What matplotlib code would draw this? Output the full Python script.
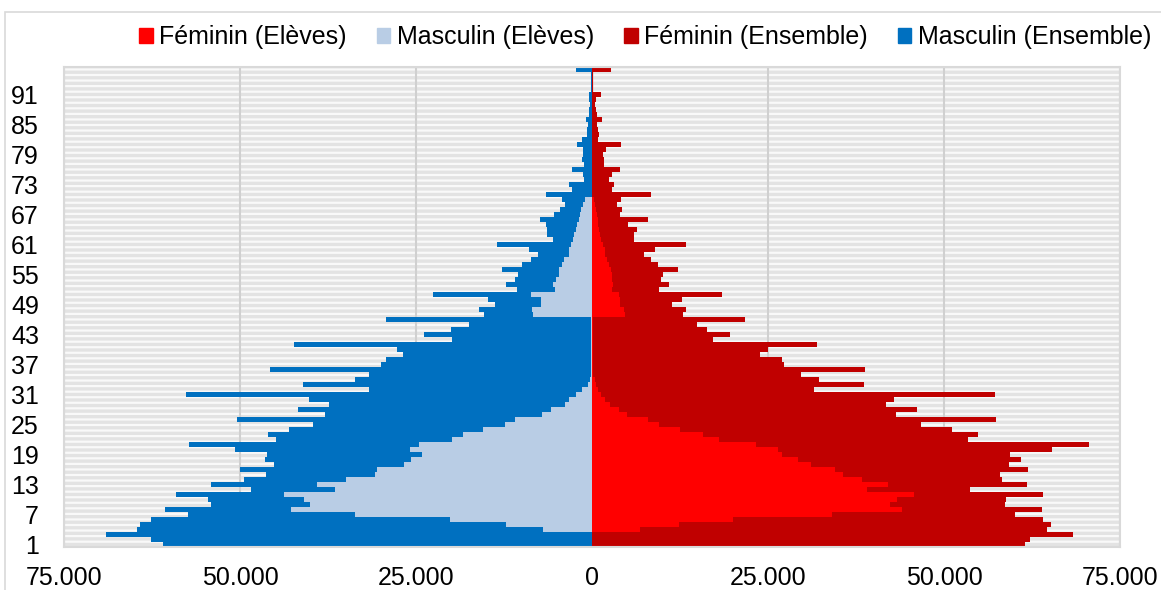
import matplotlib
matplotlib.use('Agg')
import matplotlib.pyplot as plt
from matplotlib.patches import Patch, Rectangle
from matplotlib.ticker import FuncFormatter
import numpy as np

plt.rcParams['font.family'] = ['Liberation Sans', 'DejaVu Sans']
plt.rcParams['hatch.linewidth'] = 1.6

# age categories 1..96 (top one is the last class)
ages = list(range(1, 97))

masc_ensemble = [
    61000, 62700, 69000, 64700, 64200, 62700, 57400, 60700, 54100, 54500,
    59100, 48500, 54100, 49500, 46300, 50000, 45200, 46500, 46200, 50700,
    57200, 44900, 46000, 43100, 39700, 50400, 37900, 41700, 37400, 40200,
    57700, 31700, 41100, 33600, 31700, 45700, 30000, 29300, 26800, 27700,
    42400, 19900, 23800, 20000, 17500, 29300, 15400, 16100, 13800, 14800,
    22600, 10700, 12200, 10900, 10500, 12800, 9900, 8700, 7600, 8950,
    13500, 5500, 6450, 6350, 6600, 7400, 5350, 4550, 3850, 4200,
    6600, 2900, 3200, 1100, 1250, 2900, 1100, 1450, 1250, 1300,
    2100, 1400, 700, 650, 600, 900, 400, 450, 350, 400,
    470, 150, 150, 100, 100, 2270]

fem_ensemble = [
    61500, 62200, 68300, 64700, 65200, 64000, 60100, 63900, 58700, 58800,
    64000, 53700, 61800, 58200, 58000, 62000, 59200, 60900, 59400, 65400,
    70600, 53400, 54800, 51100, 46700, 57400, 43200, 46200, 41700, 42900,
    57200, 31600, 38600, 32300, 29700, 38800, 27300, 27000, 23800, 25000,
    31900, 17200, 19600, 16400, 14900, 21700, 12900, 13300, 11400, 12800,
    18400, 9500, 11000, 9750, 10100, 12200, 9400, 8450, 7450, 9000,
    13400, 6000, 5900, 6350, 5100, 7900, 4000, 4250, 3600, 4100,
    8400, 2800, 3100, 2450, 2900, 4000, 1700, 1700, 1500, 1950,
    4050, 850, 1000, 850, 750, 1350, 750, 500, 400, 550,
    1250, 100, 200, 100, 100, 2650]

fem_eleves = [
    0, 0, 0, 6800, 12300, 20000, 34100, 44000, 42400, 43300,
    45700, 39000, 42100, 38300, 35700, 34500, 31100, 29200, 27000, 26400,
    23300, 18100, 15700, 12500, 9500, 7900, 5000, 3800, 2550, 1900,
    1300, 800, 600, 450, 150, 150, 150, 150, 150, 150,
    150, 150, 150, 150, 150, 150, 4750, 4600, 4000, 4000,
    3900, 2850, 3050, 2900, 2800, 2750, 2400, 2150, 1900, 1900,
    1500, 1300, 1100, 1000, 900, 800, 700, 600, 450, 300,
    0, 0, 0, 0, 0, 0, 0, 0, 0, 0,
    0, 0, 0, 0, 0, 0, 0, 0, 0, 0,
    0, 0, 0, 0, 0, 0]

masc_eleves = [
    0, 0, 0, 7000, 12200, 20200, 33600, 42800, 40000, 40900,
    43700, 36500, 39000, 34900, 30800, 30600, 26700, 25700, 24100, 25900,
    24600, 19900, 18300, 15500, 12400, 11000, 7100, 5800, 3900, 3200,
    2300, 1400, 600, 300, 150, 150, 150, 150, 150, 150,
    150, 150, 150, 150, 150, 150, 8400, 8550, 7200, 7300,
    8700, 5200, 5500, 5100, 4750, 4650, 4300, 4000, 3200, 3300,
    3000, 2700, 2500, 2300, 2100, 1900, 1700, 1500, 1300, 1000,
    0, 0, 0, 0, 0, 0, 0, 0, 0, 0,
    0, 0, 0, 0, 0, 0, 0, 0, 0, 0,
    0, 0, 0, 0, 0, 0]

series_names = ['Féminin (Elèves)', 'Masculin (Elèves)',
                'Féminin (Ensemble)', 'Masculin (Ensemble)']
series_colors = ['#ff0000', '#b9cde5', '#c00000', '#0070c0']

age_ticks = ages[::6]
x_ticks = [-75000, -50000, -25000, 0, 25000, 50000, 75000]

fig = plt.figure(figsize=(11.61, 5.90), dpi=100)
ax = fig.add_axes([64 / 1161, 1 - 547 / 590, (1120 - 64) / 1161, 480 / 590])

# hatched plot area background
ax.add_patch(Rectangle((0, 0), 1, 1, transform=ax.transAxes, facecolor='#e3e3e3',
                       edgecolor='#f9f9f9', hatch='---', linewidth=0, zorder=0))

y = np.array(ages)
ax.barh(y, -np.array(masc_ensemble), height=1.0, color=series_colors[3], zorder=2)
ax.barh(y, fem_ensemble, height=1.0, color=series_colors[2], zorder=2)
ax.barh(y, -np.array(masc_eleves), height=1.0, color=series_colors[1], zorder=3)
ax.barh(y, fem_eleves, height=1.0, color=series_colors[0], zorder=3)

ax.set_xlim(-75000, 75000)
ax.set_ylim(0.5, 96.5)
ax.set_xticks(x_ticks)
ax.xaxis.set_major_formatter(FuncFormatter(lambda v, p: f'{abs(int(v)):,}'.replace(',', '.')))
ax.set_yticks(age_ticks)
ax.tick_params(axis='x', length=0, pad=14, labelsize=18)
ax.tick_params(axis='y', length=0, pad=18, labelsize=18)
ax.set_axisbelow(True)
ax.grid(axis='x', color='#d0d0d0', linewidth=1.5)
for s in ax.spines.values():
    s.set_color('#d9d9d9')
    s.set_linewidth(1.5)
ax.axvline(0, color='#f08080', linewidth=1, zorder=1.5)

handles = [Patch(color=c) for c in series_colors]
fig.legend(handles, series_names, loc='center', bbox_to_anchor=(645 / 1161, 1 - 37 / 590),
           ncol=4, frameon=False, fontsize=18, handlelength=0.55, handleheight=0.55,
           handletextpad=0.25, columnspacing=1.2)

# light frame around the chart
fig.add_artist(Rectangle((5 / 1161, -0.1), 1.2, 1.1 - 12 / 590, transform=fig.transFigure,
                         fill=False, edgecolor='#d9d9d9', linewidth=1.2))

fig.savefig('out.png', dpi=100)
